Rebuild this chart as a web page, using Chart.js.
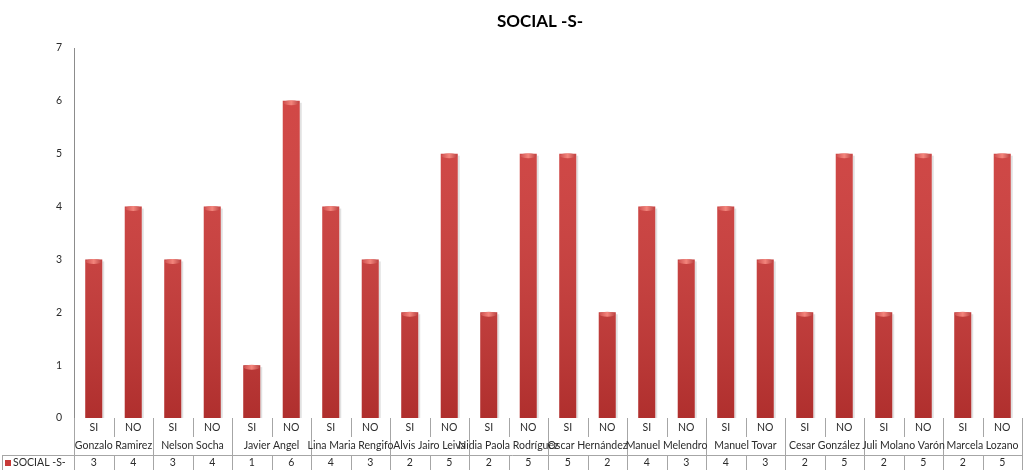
<!DOCTYPE html>
<html>
<head>
<meta charset="utf-8">
<script src="https://cdn.jsdelivr.net/npm/chart.js@4.4.1/dist/chart.umd.min.js"></script>
<style>
  html, body { margin: 0; padding: 0; background: #ffffff; }
  #wrap { width: 1026px; height: 470px; position: relative; }
</style>
</head>
<body>
<div id="wrap"><canvas id="chart" width="1026" height="470"></canvas></div>
<script>
// Answer per person (SI / NO) and the count for each answer
const answers = ['SI','NO','SI','NO','SI','NO','SI','NO','SI','NO','SI','NO',
                 'SI','NO','SI','NO','SI','NO','SI','NO','SI','NO','SI','NO'];
const people = ['Gonzalo Ramirez','Nelson Socha','Javier Angel','Lina Maria Rengifo',
                'Alvis Jairo Leiva','Nidia Paola Rodríguez','Oscar Hernández','Manuel Melendro',
                'Manuel Tovar','Cesar González','Juli Molano Varón','Marcela Lozano'];
const socialValues = [3,4,3,4,1,6,4,3,2,5,2,5,5,2,4,3,4,3,2,5,2,5,2,5];
const seriesName = 'SOCIAL -S-';
const chartTitle = 'SOCIAL -S-';
const yTicks = [0,1,2,3,4,5,6,7];

const FONT = 'Lato';
const TEXT = '#2b2b2b';
const LINE = '#a6a6a6';

function barGradient(ctx) {
  const chart = ctx.chart;
  const el = chart.getDatasetMeta(ctx.datasetIndex).data[ctx.dataIndex];
  if (!el || !chart.chartArea) return '#d03c3a';
  const w = el.width || 17;
  const x0 = el.x - w / 2, x1 = el.x + w / 2;
  if (!isFinite(x0)) return '#d03c3a';
  const g = chart.ctx.createLinearGradient(x0, 0, x1, 0);
  g.addColorStop(0, '#9a2424');
  g.addColorStop(0.15, '#cf3a38');
  g.addColorStop(0.45, '#e24b47');
  g.addColorStop(0.8, '#d03d3a');
  g.addColorStop(1, '#8a2020');
  return g;
}

// Bar shadows, vertical shading and cylinder caps
const barDecor = {
  id: 'barDecor',
  beforeDatasetsDraw(chart) {
    const c = chart.ctx;
    const meta = chart.getDatasetMeta(0);
    c.save();
    meta.data.forEach(el => {
      const w = el.width;
      c.fillStyle = 'rgba(120,120,120,0.22)';
      c.fillRect(el.x + w / 2, el.y + 2, 2, el.base - el.y - 2);
    });
    c.restore();
  },
  afterDatasetsDraw(chart) {
    const c = chart.ctx;
    const area = chart.chartArea;
    const meta = chart.getDatasetMeta(0);
    c.save();
    const shade = c.createLinearGradient(0, area.top, 0, area.bottom);
    shade.addColorStop(0, 'rgba(255,255,255,0.05)');
    shade.addColorStop(1, 'rgba(60,0,0,0.22)');
    meta.data.forEach(el => {
      const w = el.width;
      c.fillStyle = shade;
      c.fillRect(el.x - w / 2, el.y, w, el.base - el.y);
      const g = c.createLinearGradient(el.x - w / 2, 0, el.x + w / 2, 0);
      g.addColorStop(0, '#cc4c4c');
      g.addColorStop(0.5, '#f3857c');
      g.addColorStop(1, '#b84040');
      c.fillStyle = g;
      c.beginPath();
      c.ellipse(el.x, el.y + 2, w / 2 - 0.5, 2.5, 0, 0, Math.PI * 2);
      c.fill();
    });
    c.restore();
  }
};

// Category labels and the data table beneath the plot
const dataTable = {
  id: 'dataTable',
  afterDraw(chart) {
    const c = chart.ctx;
    const xs = chart.scales.x;
    const area = chart.chartArea;
    const n = answers.length;
    const colW = (area.right - area.left) / n;
    const yTop = area.bottom;
    const yRow1 = yTop + 19;   // end of SI/NO row
    const yRow2 = yTop + 37;   // end of names row
    const yEnd = 470;
    c.save();
    c.strokeStyle = LINE;
    c.lineWidth = 1;
    c.beginPath();
    for (let i = 0; i <= n; i++) {
      const x = Math.round(area.left + i * colW) + 0.5;
      const groupEdge = (i % 2 === 0);
      c.moveTo(x, yTop);
      c.lineTo(x, groupEdge ? yEnd : yRow1);
      if (!groupEdge) { c.moveTo(x, yRow2); c.lineTo(x, yEnd); }
    }
    c.moveTo(2.5, yRow2 + 0.5); c.lineTo(area.right, yRow2 + 0.5);
    c.moveTo(2.5, yRow2); c.lineTo(2.5, yEnd);
    c.stroke();

    c.fillStyle = TEXT;
    c.textAlign = 'center';
    c.textBaseline = 'middle';
    c.font = '10.5px ' + FONT;
    for (let i = 0; i < n; i++) {
      const x = xs.getPixelForValue(i);
      c.fillText(answers[i], x, yTop + 10);
      c.fillText(String(socialValues[i]), x, yRow2 + 8);
    }
    for (let g = 0; g < people.length; g++) {
      const x = area.left + (g * 2 + 1) * colW;
      c.fillText(people[g], x, yTop + 28);
    }
    // series key
    c.fillStyle = '#c83a38';
    c.fillRect(5, yRow2 + 5, 6, 6);
    c.fillStyle = TEXT;
    c.textAlign = 'left';
    c.fillText(seriesName, 13, yRow2 + 8);

    // title
    c.font = 'bold 17px ' + FONT;
    c.fillStyle = '#000000';
    c.textAlign = 'center';
    c.fillText(chartTitle, 540, 22);
    c.restore();
  }
};

new Chart(document.getElementById('chart'), {
  type: 'bar',
  data: {
    labels: answers,
    datasets: [{
      label: seriesName,
      data: socialValues,
      backgroundColor: barGradient,
      borderWidth: 0,
      barPercentage: 0.43,
      categoryPercentage: 1.0
    }]
  },
  options: {
    responsive: false,
    animation: false,
    devicePixelRatio: 1,
    layout: { padding: { top: 48, right: 4, bottom: 52, left: 0 } },
    plugins: { legend: { display: false }, title: { display: false }, tooltip: { enabled: false } },
    scales: {
      x: {
        offset: true,
        grid: { display: false, drawTicks: false },
        border: { display: false },
        ticks: { display: false }
      },
      y: {
        min: 0, max: 7,
        afterFit(scale) { scale.width = 74; },
        afterBuildTicks(scale) { scale.ticks = yTicks.map(v => ({ value: v })); },
        grid: { display: false, drawTicks: false },
        border: { display: true, color: '#8c8c8c', width: 1 },
        ticks: { color: TEXT, font: { family: FONT, size: 10.5 }, padding: 12 }
      }
    }
  },
  plugins: [barDecor, dataTable]
});
</script>
</body>
</html>
